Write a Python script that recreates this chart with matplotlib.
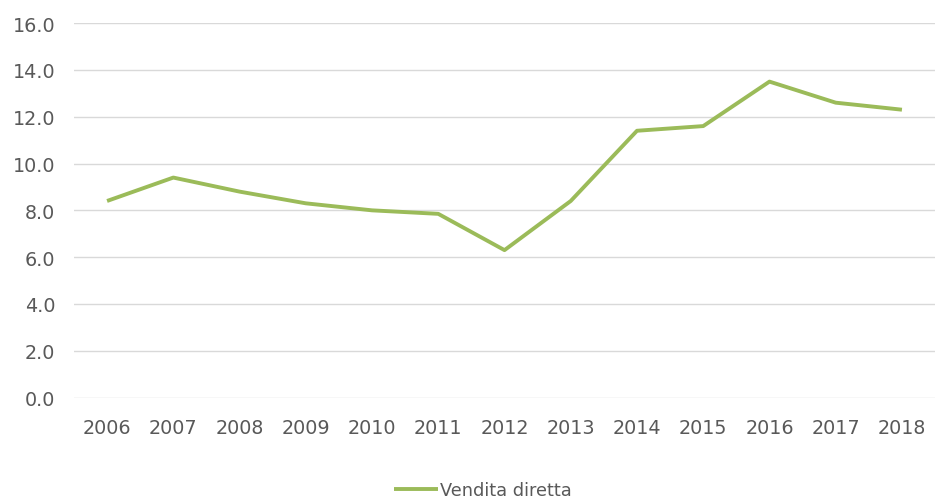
import matplotlib.pyplot as plt

plt.rcParams['font.family'] = ['DejaVu Sans']

years = ['2006', '2007', '2008', '2009', '2010', '2011', '2012',
         '2013', '2014', '2015', '2016', '2017', '2018']
vendita_diretta = [8.4, 9.4, 8.8, 8.3, 8.0, 7.85, 6.3, 8.4, 11.4, 11.6, 13.5, 12.6, 12.3]
y_ticks = [0, 2, 4, 6, 8, 10, 12, 14, 16]

text_color = '#595959'

fig = plt.figure(figsize=(9.36, 5.02), dpi=100)
ax = fig.add_axes([0.079, 0.206, 0.92, 0.746])

x = range(len(years))
ax.plot(x, vendita_diretta, color='#9BBB59', linewidth=2.8, label='Vendita diretta',
        solid_capstyle='butt', solid_joinstyle='round')

ax.set_xlim(-0.5, len(years) - 0.5)
ax.set_ylim(0, 16)
ax.set_yticks(y_ticks)
ax.set_yticklabels([f'{v:.1f}' for v in y_ticks])
ax.set_xticks(list(x))
ax.set_xticklabels(years)

ax.grid(axis='y', color='#d9d9d9', linewidth=1)
ax.set_axisbelow(True)
for s in ax.spines.values():
    s.set_visible(False)
ax.tick_params(length=0, labelsize=13.8, colors=text_color)
ax.tick_params(axis='y', pad=13.5)
ax.tick_params(axis='x', pad=14.5)

leg = fig.legend(loc='center', bbox_to_anchor=(0.516, 0.022), frameon=False,
                 fontsize=12.8, handlelength=2.5, handletextpad=0.1)
for t in leg.get_texts():
    t.set_color(text_color)

fig.savefig('out.png', dpi=100)
